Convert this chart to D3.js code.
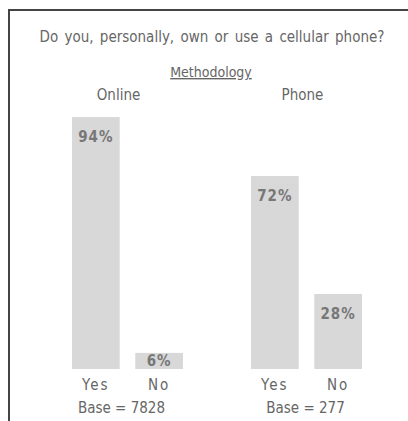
<!DOCTYPE html>
<html>
<head>
<meta charset="utf-8">
<script src="https://cdn.jsdelivr.net/npm/d3@7"></script>
<style>
  body { margin: 0; background: #fff; }
  svg { display: block; }
  text { font-family: "Liberation Sans Narrow", "Arial Narrow", "DejaVu Sans Condensed", sans-serif; fill: #666; }
</style>
</head>
<body>
<div id="chart"></div>
<script>
const title = "Do you, personally, own or use a cellular phone?";
const subtitle = "Methodology";
const groups = ["Online", "Phone"];
const answers = ["Yes", "No"];
const values = {
  Online: [94, 6],
  Phone: [72, 28],
};
const bases = ["Base = 7828", "Base = 277"];

const width = 408, height = 421;
const baseline = 369;

const svg = d3.select("#chart").append("svg")
  .attr("width", width)
  .attr("height", height);

// frame, runs off the right and bottom edge like the scan
svg.append("path")
  .attr("d", `M9,${height} V10 H${width}`)
  .attr("fill", "none")
  .attr("stroke", "#444")
  .attr("stroke-width", 2);

const x0 = d3.scaleBand()
  .domain(groups)
  .range([38, 396])
  .paddingInner(0.38)
  .paddingOuter(0.19);
const x1 = d3.scaleBand()
  .domain(answers)
  .range([0, x0.bandwidth()])
  .paddingInner(0.246);
const y = d3.scaleLinear().domain([0, 100]).range([baseline, 101]);

const data = groups.flatMap((g) =>
  answers.map((a, i) => ({ group: g, answer: a, value: values[g][i] }))
);

svg.append("text")
  .attr("x", 212)
  .attr("y", 42)
  .attr("text-anchor", "middle")
  .attr("font-size", 15)
  .attr("word-spacing", 2)
  .text(title);

svg.append("text")
  .attr("x", 211)
  .attr("y", 77)
  .attr("text-anchor", "middle")
  .attr("font-size", 14)
  .attr("text-decoration", "underline")
  .text(subtitle);

const groupG = svg.selectAll(".group")
  .data(groups)
  .join("g")
  .attr("class", "group")
  .attr("transform", (d) => `translate(${x0(d)},0)`);

groupG.append("text")
  .attr("x", (d, i) => x0.bandwidth() / 2 + (i === 0 ? -9 : -4))
  .attr("y", 100)
  .attr("text-anchor", "middle")
  .attr("font-size", 15)
  .text((d) => d);

groupG.append("text")
  .attr("x", (d, i) => x0.bandwidth() / 2 + (i === 0 ? -6 : -1))
  .attr("y", 413)
  .attr("text-anchor", "middle")
  .attr("font-size", 15)
  .text((d, i) => bases[i]);

const bar = groupG.selectAll(".bar")
  .data((g) => data.filter((d) => d.group === g))
  .join("g")
  .attr("class", "bar")
  .attr("transform", (d) => `translate(${x1(d.answer)},0)`);

bar.append("rect")
  .attr("width", x1.bandwidth())
  .attr("y", (d) => y(d.value))
  .attr("height", (d) => baseline - y(d.value))
  .attr("fill", "#d8d8d8");

bar.append("text")
  .attr("x", x1.bandwidth() / 2)
  .attr("y", (d) => Math.min(y(d.value) + 25, baseline - 3))
  .attr("text-anchor", "middle")
  .attr("font-size", 15)
  .attr("font-weight", "bold")
  .attr("letter-spacing", 1)
  .style("fill", "#777")
  .text((d) => d.value + "%");

bar.append("text")
  .attr("x", x1.bandwidth() / 2)
  .attr("y", 390)
  .attr("text-anchor", "middle")
  .attr("font-size", 15)
  .attr("letter-spacing", 2)
  .text((d) => d.answer);
</script>
</body>
</html>
